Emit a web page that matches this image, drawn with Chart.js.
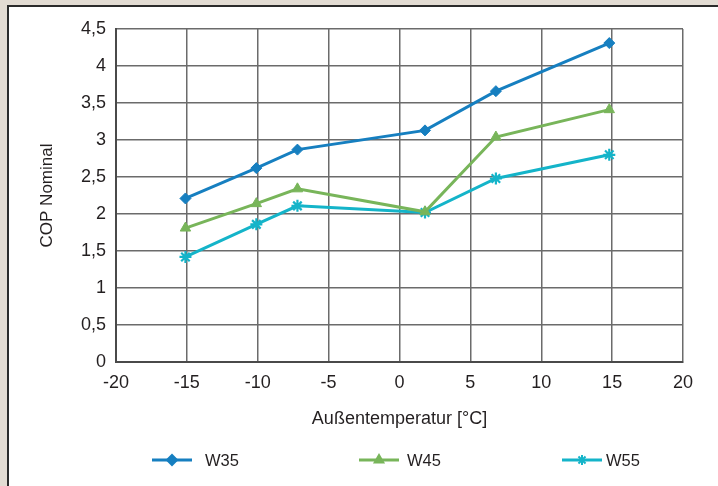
<!DOCTYPE html>
<html>
<head>
<meta charset="utf-8">
<script src="https://cdn.jsdelivr.net/npm/chart.js@4/dist/chart.umd.min.js"></script>
<style>
  html, body { margin: 0; padding: 0; background: #e3dcd3; }
  #wrap { position: relative; width: 718px; height: 486px; }
</style>
</head>
<body>
<div id="wrap"><canvas id="c" width="718" height="486"></canvas></div>
<script>
// Außentemperatur (°C) of each measuring point
const temperatures = [-15.1, -10.1, -7.2, 1.8, 6.8, 14.8];

// COP per supply temperature
const seriesNames = ['W35', 'W45', 'W55'];
const copW35 = [2.21, 2.62, 2.87, 3.13, 3.66, 4.31];
const copW45 = [1.81, 2.14, 2.34, 2.03, 3.04, 3.41];
const copW55 = [1.42, 1.86, 2.11, 2.02, 2.48, 2.80];

// axis tick labels (German decimal comma)
const xTickLabels = ['-20', '-15', '-10', '-5', '0', '5', '10', '15', '20'];
const yTickLabels = ['0', '0,5', '1', '1,5', '2', '2,5', '3', '3,5', '4', '4,5'];

const FONT = '"Liberation Sans", Arial, sans-serif';
const TEXT = '#231f20';

function toPoints(values) {
  return values.map((v, i) => ({ x: temperatures[i], y: v }));
}

// beige frame with a white panel behind the chart
const framePlugin = {
  id: 'frame',
  beforeDraw(chart) {
    const ctx = chart.ctx;
    ctx.save();
    ctx.fillStyle = '#e3dcd3';
    ctx.fillRect(0, 0, chart.width, chart.height);
    ctx.fillStyle = '#ffffff';
    ctx.fillRect(8, 6, chart.width, chart.height);
    ctx.strokeStyle = '#2b2b2b';
    ctx.lineWidth = 2;
    ctx.beginPath();
    ctx.moveTo(8, chart.height + 2);
    ctx.lineTo(8, 6);
    ctx.lineTo(chart.width + 2, 6);
    ctx.stroke();
    ctx.restore();
  }
};

// legend row below the axis title: line segment + marker + label per series
const legendRow = {
  id: 'legendRow',
  afterDraw(chart) {
    const ctx = chart.ctx;
    const slots = [
      { x0: 152, x1: 192, tx: 205 },
      { x0: 359, x1: 399, tx: 407 },
      { x0: 562, x1: 602, tx: 606 }
    ];
    const y = 460;
    ctx.save();
    chart.data.datasets.forEach((ds, i) => {
      const s = slots[i];
      ctx.strokeStyle = ds.borderColor;
      ctx.lineWidth = 3;
      ctx.beginPath();
      ctx.moveTo(s.x0, y);
      ctx.lineTo(s.x1, y);
      ctx.stroke();
      ctx.fillStyle = ds.backgroundColor;
      ctx.strokeStyle = ds.borderColor;
      ctx.lineWidth = 2;
      Chart.helpers.drawPoint(ctx, {
        pointStyle: ds.pointStyle,
        radius: 5,
        rotation: 0,
        borderWidth: 2
      }, (s.x0 + s.x1) / 2, y);
      ctx.fillStyle = TEXT;
      ctx.font = '16.5px ' + FONT;
      ctx.textBaseline = 'middle';
      ctx.textAlign = 'left';
      ctx.fillText(ds.label, s.tx, y + 1);
    });
    ctx.restore();
  }
};

const colors = ['#167fc0', '#78b55a', '#14b4c9'];
const styles = ['rectRot', 'triangle', 'star'];
const values = [copW35, copW45, copW55];

new Chart(document.getElementById('c'), {
  type: 'line',
  data: {
    datasets: seriesNames.map((name, i) => ({
      label: name,
      data: toPoints(values[i]),
      borderColor: colors[i],
      backgroundColor: colors[i],
      borderWidth: 3,
      pointStyle: styles[i],
      pointRadius: i === 0 ? 5.5 : 6,
      pointBorderWidth: i === 2 ? 2.2 : 1,
      pointBackgroundColor: colors[i],
      pointBorderColor: colors[i],
      tension: 0
    }))
  },
  options: {
    responsive: false,
    animation: false,
    events: [],
    layout: { padding: { left: 0, top: 29, right: 35, bottom: 54 } },
    plugins: {
      legend: { display: false },
      tooltip: { enabled: false }
    },
    scales: {
      x: {
        type: 'linear',
        min: -20,
        max: 20,
        afterFit(scale) { scale.height = 70; },
        afterBuildTicks(scale) {
          scale.ticks = xTickLabels.map(t => ({ value: Number(t) }));
        },
        ticks: {
          autoSkip: false,
          maxRotation: 0,
          padding: 10,
          color: TEXT,
          font: { family: FONT, size: 18 },
          callback: (v, i) => xTickLabels[i]
        },
        grid: { color: '#6b6b6b', lineWidth: 1.5, drawTicks: false },
        border: { color: '#4a4a4a', width: 2 },
        title: {
          display: true,
          text: 'Außentemperatur [°C]',
          color: TEXT,
          font: { family: FONT, size: 18 },
          padding: { top: 0, bottom: 2 }
        }
      },
      y: {
        type: 'linear',
        min: 0,
        max: 4.5,
        afterFit(scale) { scale.width = 116; },
        afterBuildTicks(scale) {
          scale.ticks = yTickLabels.map(t => ({ value: Number(t.replace(',', '.')) }));
        },
        ticks: {
          autoSkip: false,
          padding: 10,
          color: TEXT,
          font: { family: FONT, size: 18 },
          callback: (v, i) => yTickLabels[i]
        },
        grid: { color: '#6b6b6b', lineWidth: 1.5, drawTicks: false },
        border: { color: '#4a4a4a', width: 2 },
        title: {
          display: true,
          text: 'COP Nominal',
          color: TEXT,
          font: { family: FONT, size: 17 },
          padding: { top: 37, bottom: 0 }
        }
      }
    }
  },
  plugins: [framePlugin, legendRow]
});
</script>
</body>
</html>
